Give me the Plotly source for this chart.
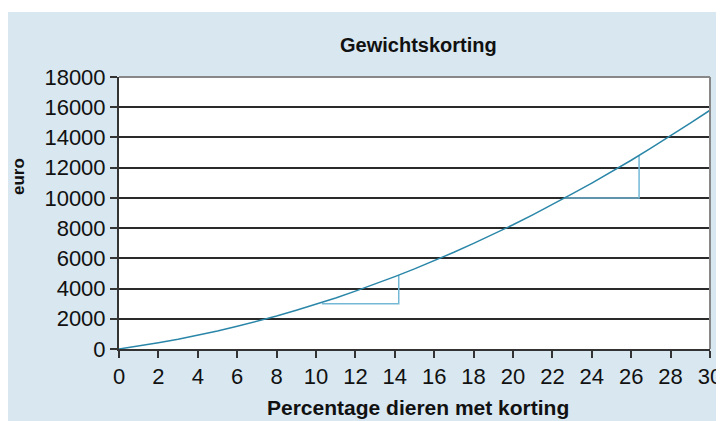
import plotly.graph_objects as go

# Data
pct = list(range(0, 31))
euro = [0, 190, 410, 640, 900, 1190, 1500, 1830, 2180, 2560, 2960, 3380, 3830, 4290,
        4790, 5300, 5840, 6400, 6990, 7590, 8220, 8880, 9560, 10260, 10980, 11730,
        12490, 13290, 14100, 14940, 15800]
tri1_x = [10.3, 14.2, 14.2]
tri1_y = [3000, 3000, 4880]
tri2_x = [22.6, 26.4, 26.4]
tri2_y = [10000, 10000, 12800]
x_ticks = list(range(0, 31, 2))
y_ticks = list(range(0, 18001, 2000))
y_labels = [str(v) for v in y_ticks]
x_labels = [str(v) for v in x_ticks]

BG = "#d8e7f0"
TICKFONT = dict(family="Liberation Sans, Arial, sans-serif", size=22, color="#111")
BOLDNARROW = "Liberation Sans Narrow, Arial Narrow, Liberation Sans, Arial, sans-serif"

fig = go.Figure()
fig.add_trace(go.Scatter(x=tri1_x, y=tri1_y, mode="lines",
                         line=dict(color="#74b8d6", width=1.5), hoverinfo="skip"))
fig.add_trace(go.Scatter(x=tri2_x, y=tri2_y, mode="lines",
                         line=dict(color="#74b8d6", width=1.5), hoverinfo="skip"))
fig.add_trace(go.Scatter(x=pct, y=euro, mode="lines",
                         line=dict(color="#2a86a8", width=1.5)))

OFF = 8  # page body margin
W, H = 716, 413
L, R, T, B = 111, 14, 69, 72
pw, ph = W - L - R, H - T - B

def px2x(p):
    return (p - OFF - L) / pw

def px2y(p):
    return (H - B - (p - OFF)) / ph

fig.update_layout(
    width=W, height=H,
    margin=dict(l=L, r=R, t=T, b=B, autoexpand=False),
    paper_bgcolor=BG, plot_bgcolor="white",
    showlegend=False,
    xaxis=dict(range=[0, 30], tickvals=x_ticks, ticktext=x_labels, ticks="outside",
               ticklen=7, tickwidth=1.5, automargin=False,
               tickcolor="#333", showgrid=False, zeroline=False, showline=True,
               linecolor="#333", linewidth=2, tickfont=TICKFONT),
    yaxis=dict(range=[0, 18000], tickvals=y_ticks, ticktext=y_labels, ticks="outside",
               ticklen=7, tickwidth=1.5, automargin=False,
               tickcolor="#333", showgrid=True, gridcolor="#2a2a2a", gridwidth=1.5,
               zeroline=False, showline=True, linecolor="#333", linewidth=2,
               tickfont=TICKFONT),
    annotations=[
        dict(text="<b>Gewichtskorting</b>", xref="paper", yref="paper",
             x=px2x(418), y=px2y(45), xanchor="center", yanchor="middle", showarrow=False,
             font=dict(family=BOLDNARROW, size=20, color="#111")),
        dict(text="<b>Percentage dieren met korting</b>", xref="paper", yref="paper",
             x=px2x(418), y=px2y(407), xanchor="center", yanchor="middle", showarrow=False,
             font=dict(family=BOLDNARROW, size=21, color="#111")),
        dict(text="<b>euro</b>", xref="paper", yref="paper", textangle=-90,
             x=px2x(18), y=px2y(177), xanchor="center", yanchor="middle", showarrow=False,
             font=dict(family="Liberation Sans, Arial, sans-serif", size=17, color="#111")),
    ],
    shapes=[
        # white strip at top of the panel
        dict(type="rect", xref="paper", yref="paper", x0=px2x(0), x1=px2x(W + 20),
             y0=px2y(12), y1=px2y(0), fillcolor="white", line=dict(width=0), layer="below"),
        # gray frame top and right
        dict(type="line", xref="paper", yref="paper", x0=0, x1=1, y0=1, y1=1,
             line=dict(color="#888", width=2), layer="above"),
        dict(type="line", xref="paper", yref="paper", x0=1, x1=1, y0=0, y1=1,
             line=dict(color="#888", width=2), layer="above"),
    ],
)

fig.write_html("out.html")
